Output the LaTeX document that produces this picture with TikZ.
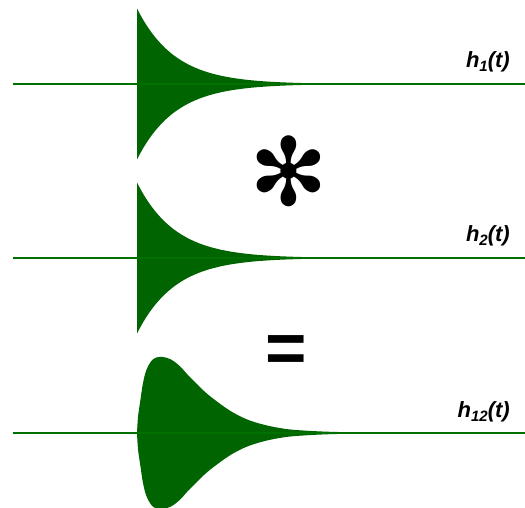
\documentclass[tikz,border=0pt]{standalone}
\usepackage{fontspec}
\setsansfont{Liberation Sans}
\newfontfamily\symfont{DejaVu Sans}
\definecolor{hgreen}{RGB}{0,100,0}
\definecolor{hline}{RGB}{0,112,0}
\newcommand\lowidx[1]{\raisebox{-0.3ex}{\fontsize{15}{15}\selectfont #1}}

\begin{document}
\begin{tikzpicture}[x=1pt,y=1pt,
  lbl/.style={font=\sffamily\bfseries\itshape\fontsize{22}{22}\selectfont,anchor=base east,inner sep=0pt}]
  \useasboundingbox (0,0) rectangle (525,508);
  % h1 and h2: decaying envelopes, mirrored about each baseline
  \foreach \yb in {424,250} {
    \foreach \s in {1,-1} {
      \fill[hgreen,shift={(0,\yb)},yscale=\s] (137,0)
        -- plot[domain=0:260,samples=120] ({137+\x},{75.5*exp(-\x/38)}) -- (397,0) -- cycle;
    }
  }
  % h12: the convolved envelope, traced by hand
  \foreach \s in {1,-1} {
    \fill[hgreen,shift={(0,75)},yscale=\s] plot[smooth,tension=0.6] coordinates {
      (137,0) (138,16) (140.4,33) (143,50) (146.4,63) (151.4,72) (156.4,75.5)
      (163,76) (171,73.5) (179.7,67) (187,59) (196.3,49.5) (204,42) (213,34.5)
      (229.7,22.5) (246,14) (263,8.5) (279.7,5) (296,3) (327,1.3) (367,0.4)}
      -- (367,0) -- cycle;
  }
  % baselines
  \foreach \yb in {424,250,75}
    \draw[hline,line width=2.2pt] (13,\yb) -- (525,\yb);
  \node[lbl] (hone) at (510,440) {h\lowidx{1}(t)};
  \node[lbl] (htwo) at (510,266) {h\lowidx{2}(t)};
  \node[lbl] (hconv) at (510,90) {h\lowidx{12}(t)};
  % operators
  \node[font=\symfont\fontsize{94}{94}\selectfont,inner sep=0pt] (conv) at (288.5,337) {✻};
  \node[font=\sffamily\bfseries\fontsize{71}{71}\selectfont,inner sep=0pt] (eq) at (286,154) {=};
\end{tikzpicture}
\end{document}
